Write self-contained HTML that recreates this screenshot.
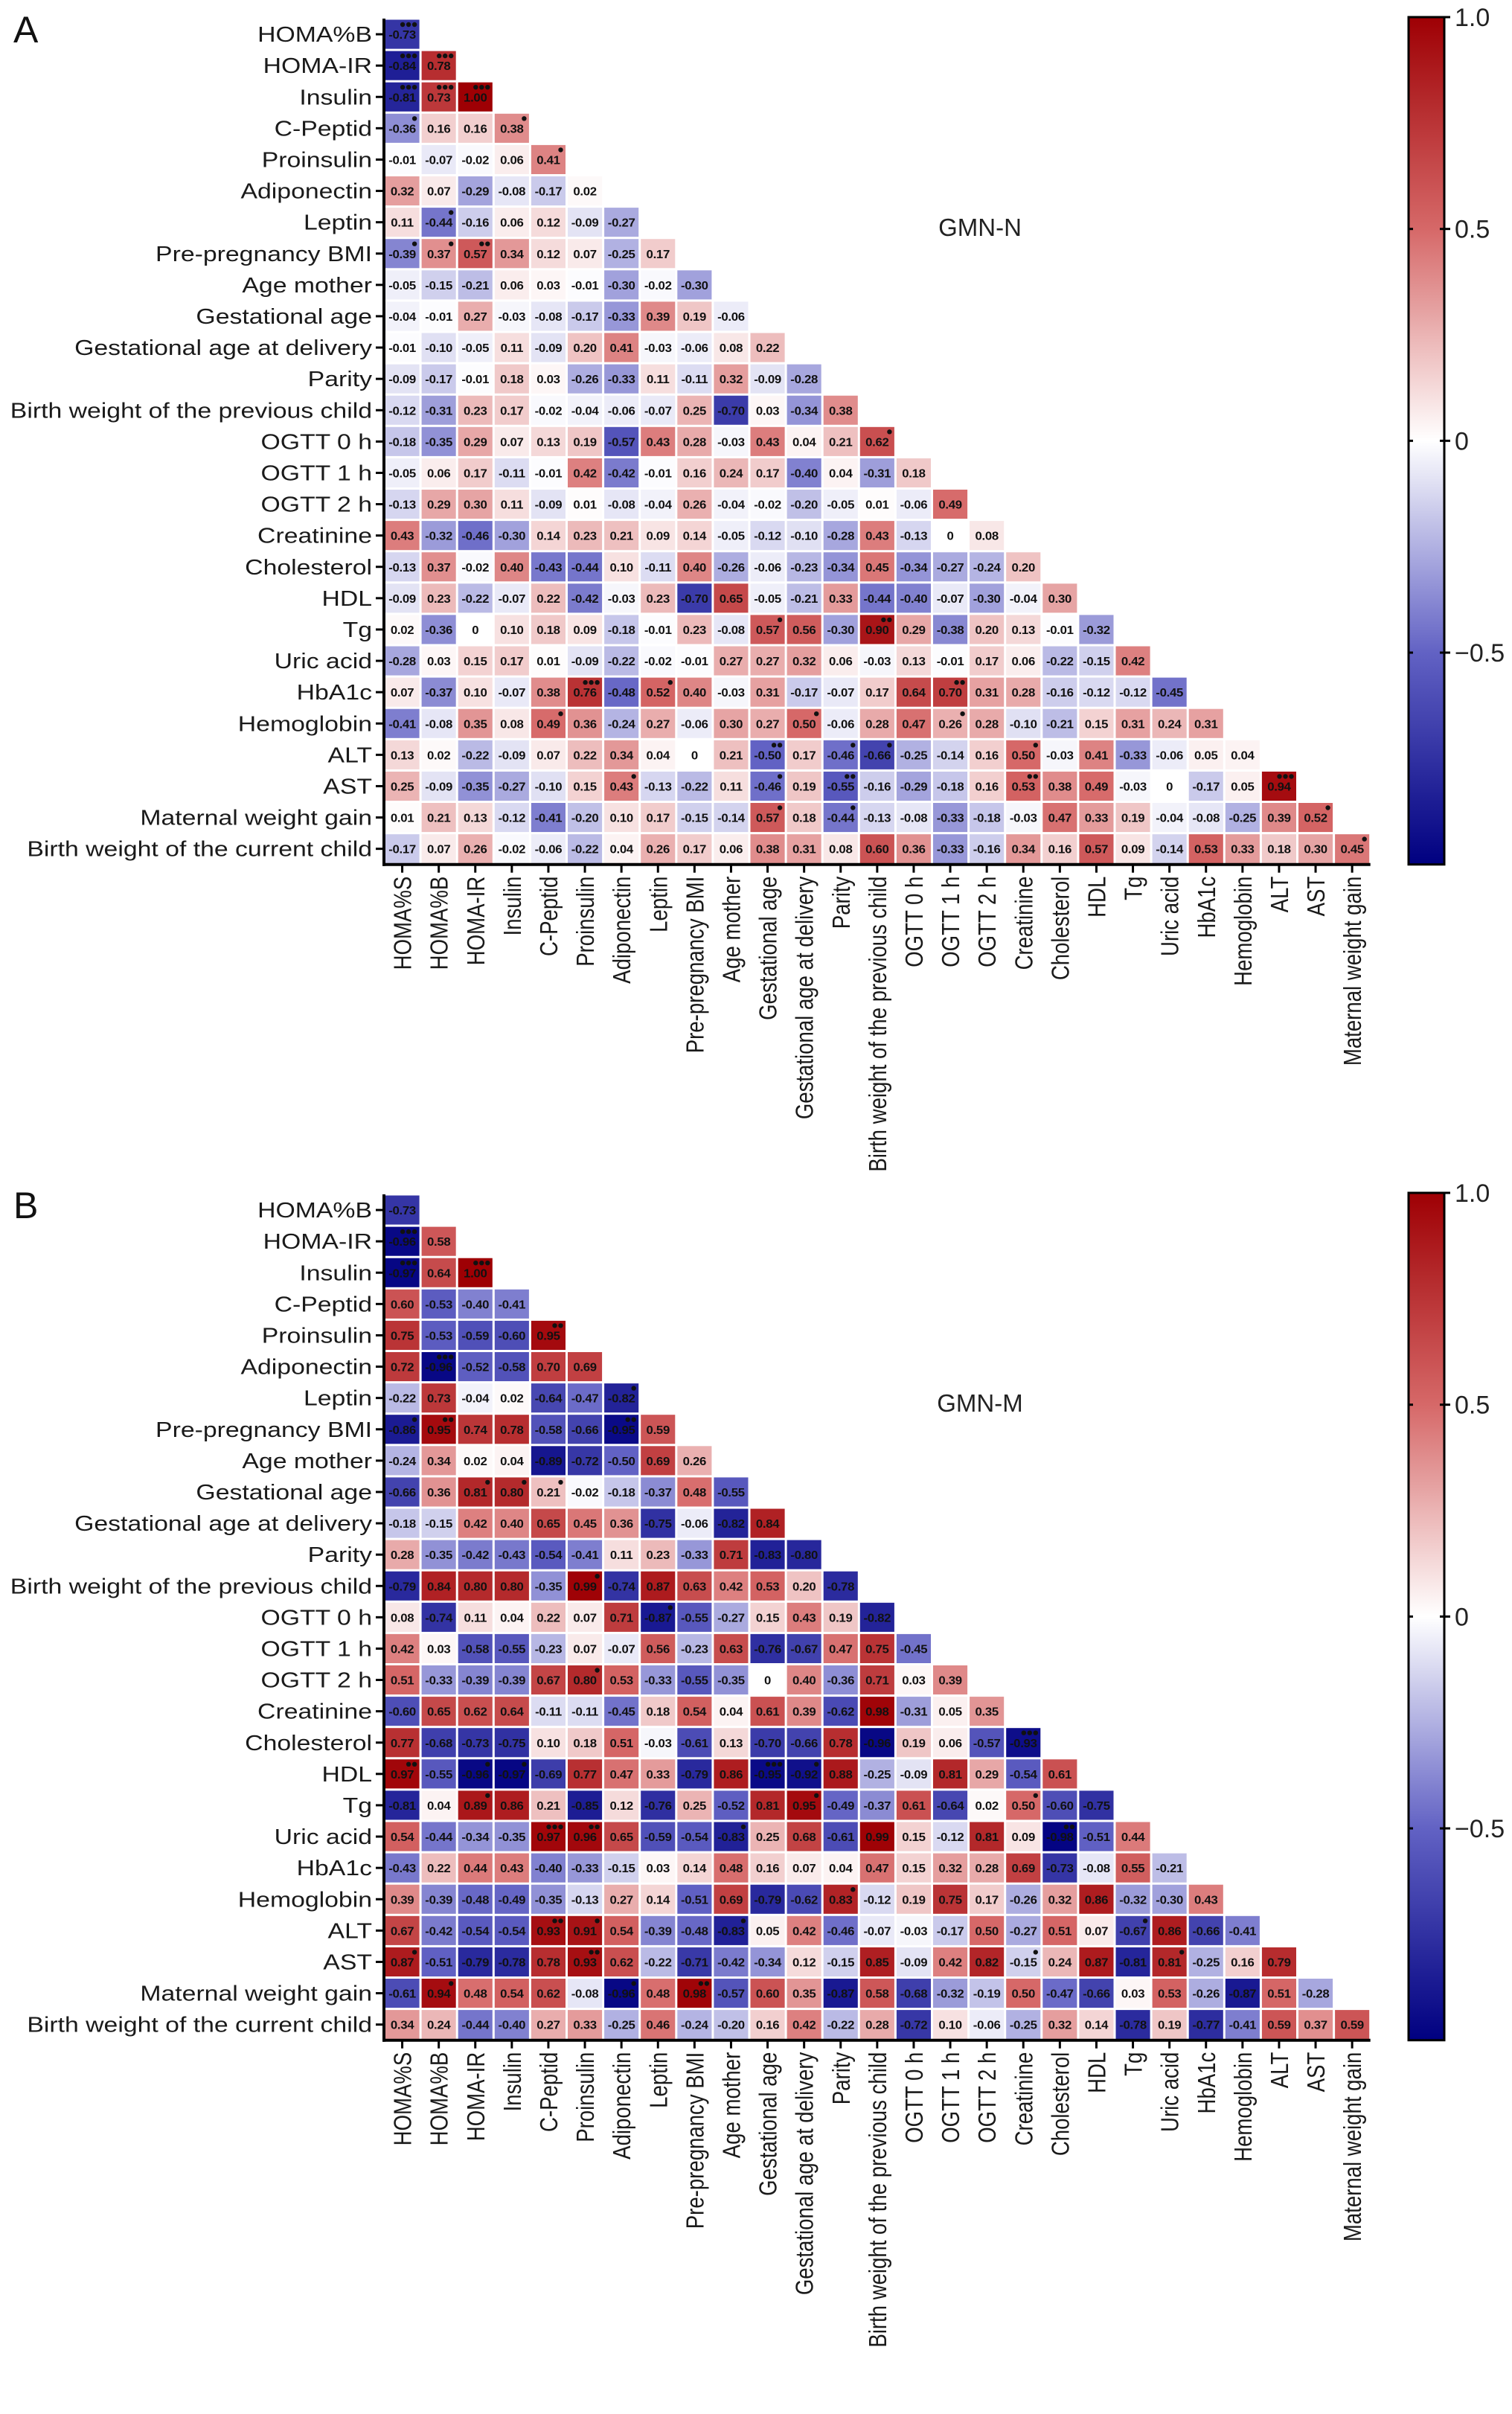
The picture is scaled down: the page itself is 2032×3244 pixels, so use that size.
<!DOCTYPE html>
<html><head><meta charset="utf-8">
<style>
html,body{margin:0;padding:0;background:#fff;}
svg{display:block;}
text{font-family:"Liberation Sans",Arial,sans-serif;}
</style></head>
<body>
<svg id="fig" width="2032" height="3244" viewBox="0 0 2032 3244" xmlns="http://www.w3.org/2000/svg"></svg>
<script>
const vars=["HOMA%S","HOMA%B","HOMA-IR","Insulin","C-Peptid","Proinsulin","Adiponectin","Leptin","Pre-pregnancy BMI","Age mother","Gestational age","Gestational age at delivery","Parity","Birth weight of the previous child","OGTT 0 h","OGTT 1 h","OGTT 2 h","Creatinine","Cholesterol","HDL","Tg","Uric acid","HbA1c","Hemoglobin","ALT","AST","Maternal weight gain","Birth weight of the current child"];
const colorbarTicks=[1.0,0.5,0,-0.5];
const colorbarTickLabels=["1.0","0.5","0","\u22120.5"];

const valuesA=[
[-0.73],
[-0.84,0.78],
[-0.81,0.73,1.00],
[-0.36,0.16,0.16,0.38],
[-0.01,-0.07,-0.02,0.06,0.41],
[0.32,0.07,-0.29,-0.08,-0.17,0.02],
[0.11,-0.44,-0.16,0.06,0.12,-0.09,-0.27],
[-0.39,0.37,0.57,0.34,0.12,0.07,-0.25,0.17],
[-0.05,-0.15,-0.21,0.06,0.03,-0.01,-0.30,-0.02,-0.30],
[-0.04,-0.01,0.27,-0.03,-0.08,-0.17,-0.33,0.39,0.19,-0.06],
[-0.01,-0.10,-0.05,0.11,-0.09,0.20,0.41,-0.03,-0.06,0.08,0.22],
[-0.09,-0.17,-0.01,0.18,0.03,-0.26,-0.33,0.11,-0.11,0.32,-0.09,-0.28],
[-0.12,-0.31,0.23,0.17,-0.02,-0.04,-0.06,-0.07,0.25,-0.70,0.03,-0.34,0.38],
[-0.18,-0.35,0.29,0.07,0.13,0.19,-0.57,0.43,0.28,-0.03,0.43,0.04,0.21,0.62],
[-0.05,0.06,0.17,-0.11,-0.01,0.42,-0.42,-0.01,0.16,0.24,0.17,-0.40,0.04,-0.31,0.18],
[-0.13,0.29,0.30,0.11,-0.09,0.01,-0.08,-0.04,0.26,-0.04,-0.02,-0.20,-0.05,0.01,-0.06,0.49],
[0.43,-0.32,-0.46,-0.30,0.14,0.23,0.21,0.09,0.14,-0.05,-0.12,-0.10,-0.28,0.43,-0.13,0,0.08],
[-0.13,0.37,-0.02,0.40,-0.43,-0.44,0.10,-0.11,0.40,-0.26,-0.06,-0.23,-0.34,0.45,-0.34,-0.27,-0.24,0.20],
[-0.09,0.23,-0.22,-0.07,0.22,-0.42,-0.03,0.23,-0.70,0.65,-0.05,-0.21,0.33,-0.44,-0.40,-0.07,-0.30,-0.04,0.30],
[0.02,-0.36,0,0.10,0.18,0.09,-0.18,-0.01,0.23,-0.08,0.57,0.56,-0.30,0.90,0.29,-0.38,0.20,0.13,-0.01,-0.32],
[-0.28,0.03,0.15,0.17,0.01,-0.09,-0.22,-0.02,-0.01,0.27,0.27,0.32,0.06,-0.03,0.13,-0.01,0.17,0.06,-0.22,-0.15,0.42],
[0.07,-0.37,0.10,-0.07,0.38,0.76,-0.48,0.52,0.40,-0.03,0.31,-0.17,-0.07,0.17,0.64,0.70,0.31,0.28,-0.16,-0.12,-0.12,-0.45],
[-0.41,-0.08,0.35,0.08,0.49,0.36,-0.24,0.27,-0.06,0.30,0.27,0.50,-0.06,0.28,0.47,0.26,0.28,-0.10,-0.21,0.15,0.31,0.24,0.31],
[0.13,0.02,-0.22,-0.09,0.07,0.22,0.34,0.04,0,0.21,-0.50,0.17,-0.46,-0.66,-0.25,-0.14,0.16,0.50,-0.03,0.41,-0.33,-0.06,0.05,0.04],
[0.25,-0.09,-0.35,-0.27,-0.10,0.15,0.43,-0.13,-0.22,0.11,-0.46,0.19,-0.55,-0.16,-0.29,-0.18,0.16,0.53,0.38,0.49,-0.03,0,-0.17,0.05,0.94],
[0.01,0.21,0.13,-0.12,-0.41,-0.20,0.10,0.17,-0.15,-0.14,0.57,0.18,-0.44,-0.13,-0.08,-0.33,-0.18,-0.03,0.47,0.33,0.19,-0.04,-0.08,-0.25,0.39,0.52],
[-0.17,0.07,0.26,-0.02,-0.06,-0.22,0.04,0.26,0.17,0.06,0.38,0.31,0.08,0.60,0.36,-0.33,-0.16,0.34,0.16,0.57,0.09,-0.14,0.53,0.33,0.18,0.30,0.45]
];
const valuesB=[
[-0.73],
[-0.96,0.58],
[-0.97,0.64,1.00],
[0.60,-0.53,-0.40,-0.41],
[0.75,-0.53,-0.59,-0.60,0.95],
[0.72,-0.96,-0.52,-0.58,0.70,0.69],
[-0.22,0.73,-0.04,0.02,-0.64,-0.47,-0.82],
[-0.86,0.95,0.74,0.78,-0.58,-0.66,-0.95,0.59],
[-0.24,0.34,0.02,0.04,-0.89,-0.72,-0.50,0.69,0.26],
[-0.66,0.36,0.81,0.80,0.21,-0.02,-0.18,-0.37,0.48,-0.55],
[-0.18,-0.15,0.42,0.40,0.65,0.45,0.36,-0.75,-0.06,-0.82,0.84],
[0.28,-0.35,-0.42,-0.43,-0.54,-0.41,0.11,0.23,-0.33,0.71,-0.83,-0.80],
[-0.79,0.84,0.80,0.80,-0.35,0.99,-0.74,0.87,0.63,0.42,0.53,0.20,-0.78],
[0.08,-0.74,0.11,0.04,0.22,0.07,0.71,-0.87,-0.55,-0.27,0.15,0.43,0.19,-0.82],
[0.42,0.03,-0.58,-0.55,-0.23,0.07,-0.07,0.56,-0.23,0.63,-0.76,-0.67,0.47,0.75,-0.45],
[0.51,-0.33,-0.39,-0.39,0.67,0.80,0.53,-0.33,-0.55,-0.35,0,0.40,-0.36,0.71,0.03,0.39],
[-0.60,0.65,0.62,0.64,-0.11,-0.11,-0.45,0.18,0.54,0.04,0.61,0.39,-0.62,0.98,-0.31,0.05,0.35],
[0.77,-0.68,-0.73,-0.75,0.10,0.18,0.51,-0.03,-0.61,0.13,-0.70,-0.66,0.78,-0.96,0.19,0.06,-0.57,-0.93],
[0.97,-0.55,-0.96,-0.97,-0.69,0.77,0.47,0.33,-0.79,0.86,-0.95,-0.92,0.88,-0.25,-0.09,0.81,0.29,-0.54,0.61],
[-0.81,0.04,0.89,0.86,0.21,-0.85,0.12,-0.76,0.25,-0.52,0.81,0.95,-0.49,-0.37,0.61,-0.64,0.02,0.50,-0.60,-0.75],
[0.54,-0.44,-0.34,-0.35,0.97,0.96,0.65,-0.59,-0.54,-0.83,0.25,0.68,-0.61,0.99,0.15,-0.12,0.81,0.09,-0.98,-0.51,0.44],
[-0.43,0.22,0.44,0.43,-0.40,-0.33,-0.15,0.03,0.14,0.48,0.16,0.07,0.04,0.47,0.15,0.32,0.28,0.69,-0.73,-0.08,0.55,-0.21],
[0.39,-0.39,-0.48,-0.49,-0.35,-0.13,0.27,0.14,-0.51,0.69,-0.79,-0.62,0.83,-0.12,0.19,0.75,0.17,-0.26,0.32,0.86,-0.32,-0.30,0.43],
[0.67,-0.42,-0.54,-0.54,0.93,0.91,0.54,-0.39,-0.48,-0.83,0.05,0.42,-0.46,-0.07,-0.03,-0.17,0.50,-0.27,0.51,0.07,-0.67,0.86,-0.66,-0.41],
[0.87,-0.51,-0.79,-0.78,0.78,0.93,0.62,-0.22,-0.71,-0.42,-0.34,0.12,-0.15,0.85,-0.09,0.42,0.82,-0.15,0.24,0.87,-0.81,0.81,-0.25,0.16,0.79],
[-0.61,0.94,0.48,0.54,0.62,-0.08,-0.96,0.48,0.98,-0.57,0.60,0.35,-0.87,0.58,-0.68,-0.32,-0.19,0.50,-0.47,-0.66,0.03,0.53,-0.26,-0.87,0.51,-0.28],
[0.34,0.24,-0.44,-0.40,0.27,0.33,-0.25,0.46,-0.24,-0.20,0.16,0.42,-0.22,0.28,-0.72,0.10,-0.06,-0.25,0.32,0.14,-0.78,0.19,-0.77,-0.41,0.59,0.37,0.59]
];
const starsA=[[0,0,3],[1,0,3],[1,1,3],[2,0,3],[2,1,3],[2,2,3],[3,0,1],[3,3,1],[4,4,1],[6,1,1],[7,0,1],[7,1,1],[7,2,2],[13,13,1],[19,10,1],[19,13,2],[21,5,3],[21,7,1],[21,15,2],[22,4,1],[22,11,1],[22,15,1],[23,10,2],[23,12,1],[23,13,1],[23,17,1],[24,6,1],[24,10,1],[24,12,2],[24,17,2],[24,24,3],[25,10,1],[25,12,1],[25,25,1],[26,26,1]];
const starsB=[[1,0,3],[2,0,3],[2,2,3],[4,4,2],[5,1,3],[6,6,1],[7,0,1],[7,1,2],[7,6,2],[9,2,1],[9,3,1],[9,4,1],[12,5,1],[13,7,1],[15,5,1],[18,0,2],[18,2,1],[18,3,1],[18,10,3],[18,11,1],[19,2,1],[19,11,1],[20,4,3],[20,5,2],[20,9,1],[22,12,1],[23,4,2],[23,5,1],[23,9,1],[24,0,1],[24,5,2],[25,1,1],[25,6,1],[25,8,2],[17,17,3],[19,17,1],[20,18,2],[23,20,1],[24,17,1],[24,21,1]];

const NS="http://www.w3.org/2000/svg";
const svg=document.getElementById('fig');
const LEFT=516, CW=49.1, CH=42.1, N=27;
const CB_X=1893, CB_W=48;
function mk(tag,attrs,parent){const e=document.createElementNS(NS,tag);for(const k in attrs)e.setAttribute(k,attrs[k]);(parent||svg).appendChild(e);return e;}
const stops=[[-1,[0,0,128]],[-0.5,[98,98,196]],[0,[255,255,255]],[0.5,[214,104,104]],[1,[158,0,4]]];
function color(v){v=Math.max(-1,Math.min(1,v));for(let i=0;i<stops.length-1;i++){const a=stops[i],b=stops[i+1];if(v<=b[0]){const t=(v-a[0])/(b[0]-a[0]);const c=a[1].map((x,j)=>Math.round(x+(b[1][j]-x)*t));return `rgb(${c[0]},${c[1]},${c[2]})`;}}return 'rgb(158,0,4)';}
function fmt(v){if(v===0)return "0";return (v<0?"-":"")+Math.abs(v).toFixed(2);}

function drawPanel(top,values,stars,letter,title,id){
  const g=mk('g',{});
  
  
  const xOf=c=>LEFT+c*CW, yOf=r=>top+r*CH;
  const bottom=top+N*CH;
  const L=mk('text',{x:18,y:top+32,'font-size':50,fill:'#111'},g);L.textContent=letter;
  
  
  const T=mk('text',{x:1317,y:top+292,'font-size':33,'text-anchor':'middle',fill:'#222'},g);T.textContent=title;
  
  
  values.forEach((row,r)=>{row.forEach((v,c)=>{
    const cell=mk('rect',{x:xOf(c)+1.5,y:yOf(r)+1.5,width:CW-3,height:CH-3,fill:color(v)},g);
    
    
    const t=mk('text',{x:0,y:0,'font-size':16,'font-weight':'bold','text-anchor':'middle',fill:'#111',transform:`translate(${xOf(c)+CW/2},${yOf(r)+CH/2+6}) scale(1.05,1)`,style:'letter-spacing:-0.3px'},g);
    t.textContent=fmt(v);
    
    
  });});
  stars.forEach(s=>{const [r,c,n]=s;for(let k=0;k<n;k++){
    const d=mk('circle',{cx:xOf(c)+CW-8-(n-1-k)*8,cy:yOf(r)+8,r:3.2,fill:'#111'},g);
    
    
  }});
  const ay=mk('line',{x1:LEFT,y1:top,x2:LEFT,y2:bottom+2,stroke:'#000','stroke-width':4},g);
  
  
  const ax=mk('line',{x1:LEFT-2,y1:bottom,x2:LEFT+N*CW,y2:bottom,stroke:'#000','stroke-width':4},g);
  
  
  for(let r=0;r<N;r++){
    const cy=yOf(r)+CH/2;
    mk('line',{x1:LEFT-11,y1:cy,x2:LEFT,y2:cy,stroke:'#000','stroke-width':3},g);
    const lt=mk('text',{x:0,y:0,'font-size':31,'text-anchor':'end',fill:'#1a1a1a',transform:`translate(${LEFT-16},${cy+10}) scale(1.09,0.93)`},g);
    lt.textContent=vars[r+1];
    
    
  }
  for(let c=0;c<N;c++){
    const cx=xOf(c)+CW/2;
    mk('line',{x1:cx,y1:bottom,x2:cx,y2:bottom+11,stroke:'#000','stroke-width':3},g);
    const ct=mk('text',{x:0,y:0,'font-size':31,'text-anchor':'end',fill:'#1a1a1a',transform:`translate(${cx+12},${bottom+16}) scale(1.09,0.89) rotate(-90)`},g);
    ct.textContent=vars[c];
    
    
  }
  const cbTop=top-2, cbBot=bottom;
  const gid='grad'+id;
  const defs=mk('defs',{},g);
  const lg=mk('linearGradient',{id:gid,x1:0,y1:0,x2:0,y2:1},defs);
  for(let i=0;i<=40;i++){const v=1-2*i/40;mk('stop',{offset:(i/40),'stop-color':color(v)},lg);}
  const cb=mk('rect',{x:CB_X,y:cbTop,width:CB_W,height:cbBot-cbTop,fill:`url(#${gid})`,stroke:'#000','stroke-width':3},g);
  
  
  const cbY=v=>cbTop+(1-v)/2*(cbBot-cbTop);
  colorbarTicks.forEach((v,i)=>{
    const y=cbY(v);
    mk('line',{x1:CB_X+CB_W-6,y1:y,x2:CB_X+CB_W+8,y2:y,stroke:'#000','stroke-width':3},g);
    mk('line',{x1:CB_X,y1:y,x2:CB_X+6,y2:y,stroke:'#000','stroke-width':3},g);
    const tl=mk('text',{x:CB_X+CB_W+14,y:y+12,'font-size':34,fill:'#222'},g);
    tl.textContent=colorbarTickLabels[i];
    
    
  });
}
drawPanel(25,valuesA,starsA,"A","GMN-N","a");
drawPanel(1605,valuesB,starsB,"B","GMN-M","b");
</script>
</body></html>
